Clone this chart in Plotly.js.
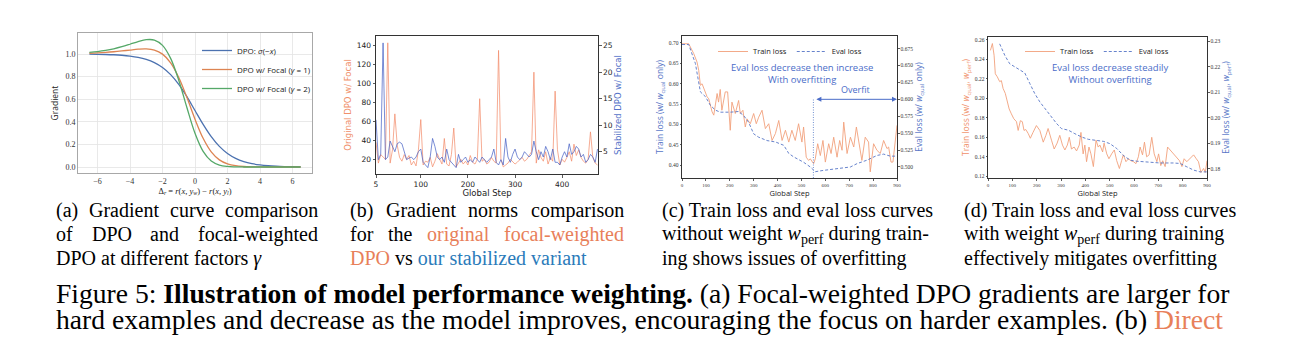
<!DOCTYPE html>
<html><head><meta charset="utf-8">
<script src="https://cdn.plot.ly/plotly-3.0.1.min.js"></script>
<style>html,body{margin:0;padding:0;background:#fff;} #chart{width:1291px;height:339px;}</style>
</head><body><div id="chart"></div>
<script>
// ---------- Panel (a): gradient curves ----------
const DELTA_R = [-6.5,-6,-5.5,-5,-4.5,-4,-3.5,-3,-2.5,-2,-1.5,-1,-0.5,0,0.5,1,1.5,2,2.5,3,3.5,4,4.5,5,5.5,6,6.5];
const GRAD_DPO = [0.9985,0.9975,0.9959,0.9933,0.9890,0.9820,0.9707,0.9526,0.9241,0.8808,0.8176,0.7311,0.6225,0.5,0.3775,0.2689,0.1824,0.1192,0.0759,0.0474,0.0293,0.0180,0.0110,0.0067,0.0041,0.0025,0.0015];
const GRAD_FOCAL1 = [1.0067,1.0098,1.0141,1.0199,1.0272,1.0353,1.0426,1.0451,1.0348,0.9991,0.9222,0.7927,0.6164,0.4233,0.2539,0.1339,0.0633,0.0275,0.0113,0.0044,0.0017,0.0006,0.0002,0.0001,0.0000,0.0000,0.0000];
const GRAD_FOCAL2 = [1.0150,1.0220,1.0322,1.0461,1.0644,1.0864,1.1095,1.1267,1.1234,1.0767,0.9614,0.7682,0.5262,0.2983,0.1379,0.0526,0.0170,0.0049,0.0013,0.0003,0.0001,0.0000,0.0000,0.0000,0.0000,0.0000,0.0000];
const A_NAMES = ['DPO: <i>σ</i>(−<i>x</i>)','DPO w/ Focal (<i>γ</i> = 1)','DPO w/ Focal (<i>γ</i> = 2)'];
const A_XTICKS = [-6,-4,-2,0,2,4,6];
const A_YTICKS = [0,0.2,0.4,0.6,0.8,1.0];

// ---------- Panel (b): gradient norms ----------
const STEPS_B = [5,10,15,20,25,30,35,40,45,50,55,60,65,70,75,80,85,90,95,100,105,110,115,120,125,130,135,140,145,150,155,160,165,170,175,180,185,190,195,200,205,210,215,220,225,230,235,240,245,250,255,260,265,270,275,280,285,290,295,300,305,310,315,320,325,330,335,340,345,350,355,360,365,370,375,380,385,390,395,400,405,410,415,420,425,430,435,440,445,450,455,460,465,470,475];
const NORM_ORIGINAL = [38,16,25,22,20,143,16,30,68,35,22,18,25,20,24,14,18,13,30,62,14,18,17,22,12,18,26,20,15,42,15,13,25,53,12,16,20,15,18,14,24,17,15,20,84,18,20,15,17,22,18,16,135,20,12,14,16,20,18,15,17,20,22,18,20,24,28,112,16,30,22,18,28,15,22,18,92,30,14,20,17,22,28,18,36,24,30,22,18,16,20,49,22,16,14];
const NORM_STABILIZED = [11,3.5,4.5,25.5,3.5,4,7,6,5,6.5,6.8,6.5,5,3.5,3.8,4,3.5,4,5,5.5,3,2.5,2,4,7.5,6,4,3.5,4,3,5.5,3.5,3,2.5,2,4.5,3,3.5,4,3,3.5,3,4,3.5,3,4,3.5,3,3.5,4,5.5,3,2.5,3.5,2.5,7.5,4,3,4.5,5.5,4,3.5,4,5,4.5,4,4.5,7,5,3.5,5,4,6,5,3.5,5.5,3,3,2.5,4,5,4,6.5,4.5,5,6,5.5,4,4.5,3,3.5,4.5,4,3,5.5];
const B_XTICKS = [5,100,200,300,400];
const B_LTICKS = [20,40,60,80,100,120,140];
const B_RTICKS = [5,10,15,20,25];

// ---------- Panel (c): without w_perf ----------
const STEPS_C_TRAIN = [0,7,28,49,63,70,77,84,91,105,112,126,133,140,147,153,160,167,181,191,202,209,223,237,244,255,265,272,286,300,311,321,335,349,363,377,391,405,419,433,447,460,474,488,502,509,520,530,537,551,558,568,579,590,600,614,624,635,649,660,670,677,691,705,719,730,740,753,767,781,788,802,816,830,844,858,865,875,883,893,900];
const TRAIN_C = [0.698,0.698,0.698,0.674,0.653,0.633,0.596,0.600,0.588,0.568,0.563,0.531,0.523,0.547,0.576,0.555,0.586,0.535,0.580,0.580,0.486,0.555,0.527,0.559,0.527,0.535,0.494,0.514,0.502,0.527,0.502,0.518,0.535,0.490,0.502,0.461,0.478,0.510,0.461,0.486,0.457,0.486,0.461,0.502,0.457,0.494,0.420,0.412,0.416,0.404,0.416,0.453,0.424,0.461,0.408,0.453,0.429,0.469,0.420,0.461,0.437,0.506,0.429,0.469,0.445,0.494,0.453,0.412,0.469,0.457,0.384,0.453,0.437,0.429,0.461,0.441,0.445,0.408,0.408,0.461,0.498];
const STEPS_C_EVAL = [0,28,56,77,98,119,140,160,202,237,258,279,300,321,356,391,426,447,467,509,537,558,593,649,705,733,774,816,844,872,900];
const EVAL_C = [0.681,0.681,0.653,0.611,0.604,0.591,0.584,0.581,0.581,0.582,0.576,0.566,0.549,0.544,0.539,0.537,0.532,0.520,0.515,0.507,0.500,0.493,0.495,0.498,0.500,0.505,0.510,0.517,0.519,0.516,0.516];
const C_OVERFIT_START = 550, C_OVERFIT_END = 900, C_OVERFIT_LEVEL = 0.600;
const C_LTICKS = [0.40,0.45,0.50,0.55,0.60,0.65,0.70];
const C_RTICKS = [0.500,0.525,0.550,0.575,0.600,0.625,0.650,0.675];
const CD_XTICKS = [0,100,200,300,400,500,600,700,800,900];

// ---------- Panel (d): with w_perf ----------
const STEPS_D_TRAIN = [10,18,25,30,38,48,55,62,71,78,87,96,106,117,124,133,141,148,155,165,174,185,199,213,227,238,247,261,272,284,295,306,316,326,334,343,354,364,375,382,391,398,405,415,423,433,444,453,460,471,477,488,497,508,519,529,540,549,556,567,577,587,598,608,618,625,635,643,652,662,673,683,694,701,710,718,728,738,749,762,776,787,797,806,817,831,845,856,865,875,886,893,900];
const TRAIN_D = [0.249,0.256,0.244,0.225,0.222,0.217,0.218,0.210,0.205,0.198,0.189,0.184,0.179,0.176,0.167,0.177,0.176,0.167,0.168,0.164,0.159,0.165,0.172,0.167,0.155,0.162,0.169,0.157,0.148,0.154,0.162,0.152,0.147,0.152,0.160,0.148,0.150,0.146,0.152,0.165,0.143,0.152,0.135,0.150,0.143,0.130,0.157,0.150,0.152,0.145,0.154,0.143,0.138,0.143,0.147,0.136,0.128,0.136,0.142,0.135,0.138,0.136,0.135,0.133,0.140,0.150,0.142,0.155,0.140,0.142,0.160,0.143,0.135,0.143,0.131,0.136,0.130,0.150,0.147,0.143,0.140,0.136,0.130,0.138,0.135,0.138,0.142,0.138,0.135,0.124,0.128,0.124,0.136];
const STEPS_D_EVAL = [48,69,89,110,130,151,172,192,213,234,254,282,302,330,357,385,412,446,474,501,529,556,584,611,652,707,762,790,817,845,872,900];
const EVAL_D = [0.2290,0.2245,0.2212,0.2200,0.2189,0.2176,0.2134,0.2095,0.2062,0.2036,0.2009,0.1977,0.1957,0.1951,0.1937,0.1924,0.1915,0.1911,0.1907,0.1898,0.1879,0.1852,0.1833,0.1829,0.1825,0.1822,0.1822,0.1820,0.1807,0.1794,0.1787,0.1787];
const D_LTICKS = [0.12,0.14,0.16,0.18,0.20,0.22,0.24,0.26];
const D_RTICKS = [0.18,0.19,0.20,0.21,0.22,0.23];

// ---------- layout helpers ----------
const W = 1291, H = 339;
const px = v => v / W, py = v => 1 - v / H;
const CORAL = '#E8805A', CAPBLUE = '#2B7BBA';
const SERIF = 'Liberation Serif', SANS = 'Open Sans', DJ = 'DejaVu Sans';
const TRAIN_COL = '#F2A07C', EVAL_COL = '#5675C6', NOTE_COL = '#4A6CC8';
const FINE_DASH = '3px,2px';

const traces = [
  {x: DELTA_R, y: GRAD_DPO, xaxis:'x', yaxis:'y', mode:'lines', name:A_NAMES[0], legend:'legend', line:{color:'#4C72B0', width:1.3, shape:'spline'}},
  {x: DELTA_R, y: GRAD_FOCAL1, xaxis:'x', yaxis:'y', mode:'lines', name:A_NAMES[1], legend:'legend', line:{color:'#DD8452', width:1.3, shape:'spline'}},
  {x: DELTA_R, y: GRAD_FOCAL2, xaxis:'x', yaxis:'y', mode:'lines', name:A_NAMES[2], legend:'legend', line:{color:'#55A868', width:1.3, shape:'spline'}},
  {x: STEPS_B, y: NORM_ORIGINAL, xaxis:'x2', yaxis:'y2', mode:'lines', showlegend:false, line:{color:'#F28C6A', width:0.8}, opacity:0.9},
  {x: STEPS_B, y: NORM_STABILIZED, xaxis:'x2', yaxis:'y3', mode:'lines', showlegend:false, line:{color:'#4660C4', width:0.8}, opacity:0.9},
  {x: STEPS_C_TRAIN, y: TRAIN_C, xaxis:'x3', yaxis:'y4', mode:'lines', name:'Train loss', legend:'legend2', line:{color:TRAIN_COL, width:0.9}},
  {x: STEPS_C_EVAL, y: EVAL_C, xaxis:'x3', yaxis:'y5', mode:'lines', name:'Eval loss', legend:'legend2', line:{color:EVAL_COL, width:0.9, dash:FINE_DASH}},
  {x: STEPS_D_TRAIN, y: TRAIN_D, xaxis:'x4', yaxis:'y6', mode:'lines', name:'Train loss', legend:'legend3', line:{color:TRAIN_COL, width:0.9}},
  {x: STEPS_D_EVAL, y: EVAL_D, xaxis:'x4', yaxis:'y7', mode:'lines', name:'Eval loss', legend:'legend3', line:{color:EVAL_COL, width:0.9, dash:FINE_DASH}}
];

const frameAxis = (o) => Object.assign({showline:true, linecolor:'#333', linewidth:1, mirror:true, ticks:'outside', ticklen:2.5, tickwidth:0.8, tickcolor:'#333', showgrid:false, zeroline:false}, o);

const layout = {
  width: W, height: H, margin:{l:0,r:0,t:0,b:0}, paper_bgcolor:'#fff', plot_bgcolor:'#fff', showlegend:true,
  font:{family:SANS, color:'#222'},
  // (a)
  xaxis:{domain:[px(78),px(312)], anchor:'y', range:[-7.2,7.2], tickvals:A_XTICKS, showgrid:true, gridcolor:'#e4e4e4', gridwidth:0.8, zeroline:false, showline:true, mirror:true, linecolor:'#a8a8a8', linewidth:1, ticks:'', tickfont:{family:SERIF, size:8, color:'#333'},
    title:{text:'Δ<sub><i>r</i></sub> = <i>r</i>(<i>x</i>, <i>y</i><sub><i>w</i></sub>) − <i>r</i>(<i>x</i>, <i>y</i><sub><i>l</i></sub>)', font:{family:SERIF, size:8.5, color:'#222'}, standoff:2}},
  yaxis:{domain:[py(173),py(33)], anchor:'x', range:[-0.053,1.186], tickvals:A_YTICKS, tickformat:'.1f', showgrid:true, gridcolor:'#e4e4e4', gridwidth:0.8, zeroline:false, showline:true, mirror:true, linecolor:'#a8a8a8', linewidth:1, ticks:'', tickfont:{family:SERIF, size:8, color:'#333'},
    title:{text:'Gradient', font:{family:SANS, size:8.5, color:'#222'}, standoff:5}},
  // (b)
  xaxis2: frameAxis({domain:[px(376),px(598)], anchor:'y2', range:[5,476], tickvals:B_XTICKS, tickfont:{family:DJ, size:7.5, color:'#222'},
    title:{text:'Global Step', font:{family:DJ, size:8.5, color:'#222'}, standoff:1}}),
  yaxis2: frameAxis({domain:[py(174),py(36)], anchor:'x2', range:[4.5,150.2], tickvals:B_LTICKS, mirror:false, tickfont:{family:DJ, size:7.5, color:'#222'},
    title:{text:'Original DPO w/ Focal', font:{family:DJ, size:8.5, color:'#F0906A'}, standoff:3}}),
  yaxis3: frameAxis({overlaying:'y2', anchor:'x2', side:'right', range:[0.8,26.8], tickvals:B_RTICKS, mirror:false, tickfont:{family:DJ, size:7.5, color:'#222'},
    title:{text:'Stabilized DPO w/ Focal', font:{family:DJ, size:8.5, color:'#5472C8'}, standoff:3}}),
  // (c)
  xaxis3: frameAxis({domain:[px(682),px(897)], anchor:'y4', range:[0,900], tickvals:CD_XTICKS, ticklen:1.5, tickfont:{family:SERIF, size:5, color:'#333'},
    title:{text:'Global Step', font:{family:SANS, size:7.5, color:'#222'}, standoff:1}}),
  yaxis4: frameAxis({domain:[py(178),py(36)], anchor:'x3', range:[0.369,0.717], tickvals:C_LTICKS, tickformat:'.2f', mirror:false, ticklen:1.5, tickfont:{family:SERIF, size:5.5, color:'#333'},
    title:{text:'Train loss (w/ <i>w</i><sub>qual</sub> only)', font:{family:SANS, size:8.5, color:'#5675C6'}, standoff:3}}),
  yaxis5: frameAxis({overlaying:'y4', anchor:'x3', side:'right', range:[0.4837,0.6936], tickvals:C_RTICKS, tickformat:'.3f', mirror:false, ticklen:1.5, tickfont:{family:SERIF, size:5.5, color:'#333'},
    title:{text:'Eval loss (w/ <i>w</i><sub>qual</sub> only)', font:{family:SANS, size:8.5, color:'#5675C6'}, standoff:3}}),
  // (d)
  xaxis4: frameAxis({domain:[px(988),px(1207)], anchor:'y6', range:[0,900], tickvals:CD_XTICKS, ticklen:1.5, tickfont:{family:SERIF, size:5, color:'#333'},
    title:{text:'Global Step', font:{family:SANS, size:7.5, color:'#222'}, standoff:1}}),
  yaxis6: frameAxis({domain:[py(178),py(37)], anchor:'x4', range:[0.1183,0.2627], tickvals:D_LTICKS, tickformat:'.2f', mirror:false, ticklen:1.5, tickfont:{family:SERIF, size:5.5, color:'#333'},
    title:{text:'Train loss (w/ <i>w</i><sub>qual</sub>, <i>w</i><sub>perf</sub>)', font:{family:SANS, size:8.5, color:'#F0906A'}, standoff:3}}),
  yaxis7: frameAxis({overlaying:'y6', anchor:'x4', side:'right', range:[0.1763,0.2317], tickvals:D_RTICKS, tickformat:'.2f', mirror:false, ticklen:1.5, tickfont:{family:SERIF, size:5.5, color:'#333'},
    title:{text:'Eval loss (w/ <i>w</i><sub>qual</sub>, <i>w</i><sub>perf</sub>)', font:{family:SANS, size:8.5, color:'#5675C6'}, standoff:3}}),
  legend:{x:px(197), y:py(36), xanchor:'left', yanchor:'top', bgcolor:'rgba(0,0,0,0)', font:{family:SANS, size:8, color:'#222'}},
  legend2:{orientation:'h', x:px(790), y:py(37), xanchor:'center', yanchor:'top', bgcolor:'rgba(0,0,0,0)', font:{family:SANS, size:7.5, color:'#222'}},
  legend3:{orientation:'h', x:px(1097), y:py(37), xanchor:'center', yanchor:'top', bgcolor:'rgba(0,0,0,0)', font:{family:SANS, size:7.5, color:'#222'}},
  shapes:[
    {type:'line', xref:'x3', yref:'y5', x0:C_OVERFIT_START, x1:C_OVERFIT_START, y0:0.4837, y1:C_OVERFIT_LEVEL, line:{color:'#7090D0', width:1, dash:'1px,1.5px'}}
  ],
  annotations:[]
};

const ann = layout.annotations;
// panel notes
ann.push({xref:'paper', yref:'paper', x:px(802), y:py(74), xanchor:'center', yanchor:'middle', text:'Eval loss decrease then increase<br>With overfitting', showarrow:false, align:'center', font:{family:SANS, size:9.5, color:NOTE_COL}});
ann.push({xref:'paper', yref:'paper', x:px(1110), y:py(74), xanchor:'center', yanchor:'middle', text:'Eval loss decrease steadily<br>Without overfitting', showarrow:false, align:'center', font:{family:SANS, size:9.5, color:NOTE_COL}});
ann.push({xref:'x3', yref:'y5', x:C_OVERFIT_END, y:C_OVERFIT_LEVEL, axref:'x3', ayref:'y5', ax:C_OVERFIT_START, ay:C_OVERFIT_LEVEL, text:' ', showarrow:true, arrowside:'end+start', arrowhead:2, arrowsize:1, arrowwidth:1, arrowcolor:NOTE_COL});
ann.push({xref:'x3', yref:'y5', x:(C_OVERFIT_START+C_OVERFIT_END)/2, y:C_OVERFIT_LEVEL, xanchor:'center', yanchor:'bottom', yshift:1, text:'Overfit', showarrow:false, font:{family:SANS, size:9, color:NOTE_COL}});

// captions
const cap = (x, y, text, size) => ann.push({xref:'paper', yref:'paper', x:px(x), y:py(y), xanchor:'left', yanchor:'middle', text:text, showarrow:false, font:{family:SERIF, size:size||20, color:'#000'}});
const co = t => '<span style="color:'+CORAL+'">'+t+'</span>';
const cb = t => '<span style="color:'+CAPBLUE+'">'+t+'</span>';
cap(54, 210, '(a)'); cap(87, 210, 'Gradient'); cap(167.6, 210, 'curve'); cap(222.7, 210, 'comparison');
cap(54, 234, 'of'); cap(89.5, 234, 'DPO'); cap(148.3, 234, 'and'); cap(196, 234, 'focal-weighted');
cap(54, 258, 'DPO at different factors <i>γ</i>');
cap(348, 210, '(b)'); cap(383.8, 210, 'Gradient'); cap(466.3, 210, 'norms'); cap(528.8, 210, 'comparison');
cap(348, 234, 'for'); cap(386, 234, 'the'); cap(425.1, 234, co('original')); cap(502, 234, co('focal-weighted'));
cap(348, 258, co('DPO') + ' vs ' + cb('our stabilized variant'));
cap(660, 210, '(c) Train loss and eval loss curves');
cap(660, 234, 'without weight <i>w</i><sub>perf</sub> during train-');
cap(660, 258, 'ing shows issues of overfitting');
cap(962, 210, '(d) Train loss and eval loss curves');
cap(962, 234, 'with weight <i>w</i><sub>perf</sub> during training');
cap(962, 258, 'effectively mitigates overfitting');
cap(54, 293, 'Figure 5: <b>Illustration of model performance weighting.</b> (a) Focal-weighted DPO gradients are larger for', 27.6);
cap(54, 319, 'hard examples and decrease as the model improves, encouraging the focus on harder examples. (b) ' + co('Direct'), 27.6);

Plotly.newPlot('chart', traces, layout, {displayModeBar:false, staticPlot:true});
</script></body></html>
